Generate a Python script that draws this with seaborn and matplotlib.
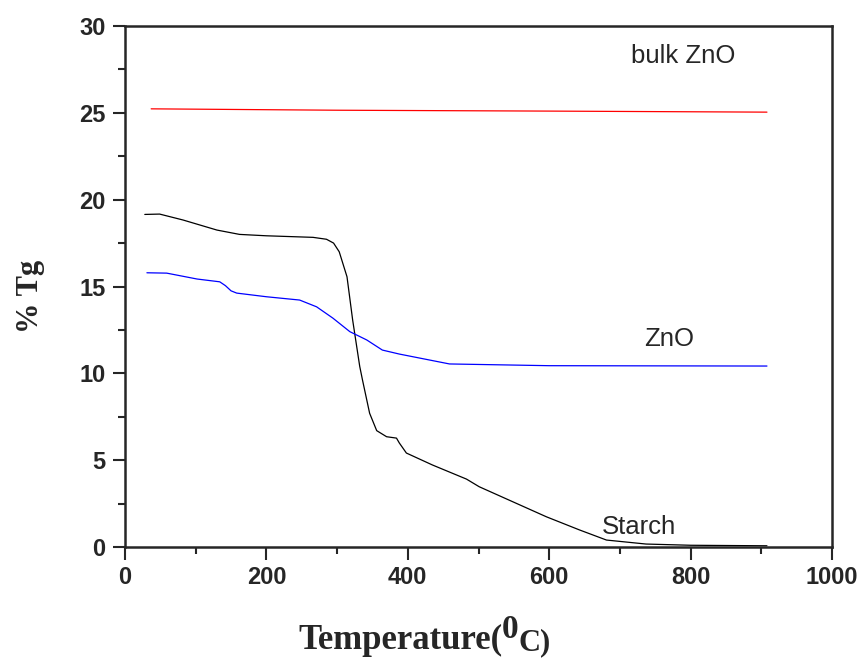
import numpy as np
import pandas as pd
import seaborn as sns
import matplotlib.pyplot as plt
from matplotlib.ticker import MultipleLocator

# TG curves (temperature in C, % Tg)
starch_t = [28, 49, 82, 130, 162, 200, 266, 285, 295, 303, 314, 322, 332, 336, 346, 356,
            370, 384, 388, 398, 435, 483, 501, 596, 643, 681, 737, 800, 908]
starch_y = [19.15, 19.17, 18.83, 18.25, 18.0, 17.92, 17.83, 17.72, 17.5, 17.0, 15.56, 13.07,
            10.4, 9.6, 7.7, 6.7, 6.35, 6.27, 5.99, 5.41, 4.72, 3.91, 3.47, 1.74, 0.98,
            0.4, 0.17, 0.1, 0.07]

zno_t = [31, 59, 102, 134, 142, 150, 158, 200, 247, 271, 294, 318, 342, 364, 388, 459, 600, 908]
zno_y = [15.79, 15.77, 15.43, 15.27, 15.05, 14.75, 14.62, 14.41, 14.22, 13.83, 13.18, 12.4,
         11.92, 11.34, 11.11, 10.54, 10.44, 10.42]

bulk_t = [37, 300, 600, 908]
bulk_y = [25.23, 25.15, 25.1, 25.04]

df = pd.concat([
    pd.DataFrame({'T': starch_t, 'Tg': starch_y, 'sample': 'Starch'}),
    pd.DataFrame({'T': zno_t, 'Tg': zno_y, 'sample': 'ZnO'}),
    pd.DataFrame({'T': bulk_t, 'Tg': bulk_y, 'sample': 'bulk ZnO'}),
])

sns.set_style('ticks')
plt.rcParams['font.family'] = ['Liberation Sans', 'DejaVu Sans']

fig = plt.figure(figsize=(8.65, 6.6), dpi=100)
ax = fig.add_axes([125 / 865, 1 - 547 / 660, (832 - 125) / 865, (547 - 26) / 660])

sns.lineplot(data=df, x='T', y='Tg', hue='sample', estimator=None, sort=False,
             palette={'Starch': 'black', 'ZnO': '#0000ff', 'bulk ZnO': '#ff0000'},
             linewidth=0.9, legend=False, ax=ax)

ax.set_xlim(0, 1000)
ax.set_ylim(0, 30)
ax.xaxis.set_major_locator(MultipleLocator(200))
ax.xaxis.set_minor_locator(MultipleLocator(100))
ax.yaxis.set_major_locator(MultipleLocator(5))
ax.yaxis.set_minor_locator(MultipleLocator(2.5))
ax.tick_params(which='major', direction='out', length=9, width=1.5, labelsize=17, pad=5)
ax.tick_params(which='minor', direction='out', length=5, width=1.5)
for lab in ax.get_xticklabels() + ax.get_yticklabels():
    lab.set_fontweight('bold')
for s in ax.spines.values():
    s.set_linewidth(1.8)
    s.set_visible(True)

ax.set_xlabel('')
ax.set_ylabel('% Tg', family=['Liberation Serif'], fontweight='bold', fontsize=22)
ax.yaxis.set_label_coords(-0.113, 0.48)

# curve labels
ax.text(789, 28.27, 'bulk ZnO', fontsize=18.5, ha='center', va='center')
ax.text(769, 11.97, 'ZnO', fontsize=18.5, ha='center', va='center')
ax.text(727, 1.15, 'Starch', fontsize=18.5, ha='center', va='center')

# x label with a raised "0"
serif = ['Liberation Serif']
t1 = fig.text(298 / 865, 11 / 660, 'Temperature(', family=serif, fontweight='bold',
              fontsize=25, va='baseline', ha='left')
t2 = ax.annotate('0', xy=(1, 0), xycoords=t1, xytext=(0, 9), textcoords='offset points',
                 family=serif, fontweight='bold', fontsize=24, va='bottom', ha='left',
                 annotation_clip=False)
t3 = ax.annotate('C)', xy=(1, 0), xycoords=t2, xytext=(0, -9), textcoords='offset points',
                 family=serif, fontweight='bold', fontsize=22, va='bottom', ha='left',
                 annotation_clip=False)

fig.savefig('out.png', dpi=100)
